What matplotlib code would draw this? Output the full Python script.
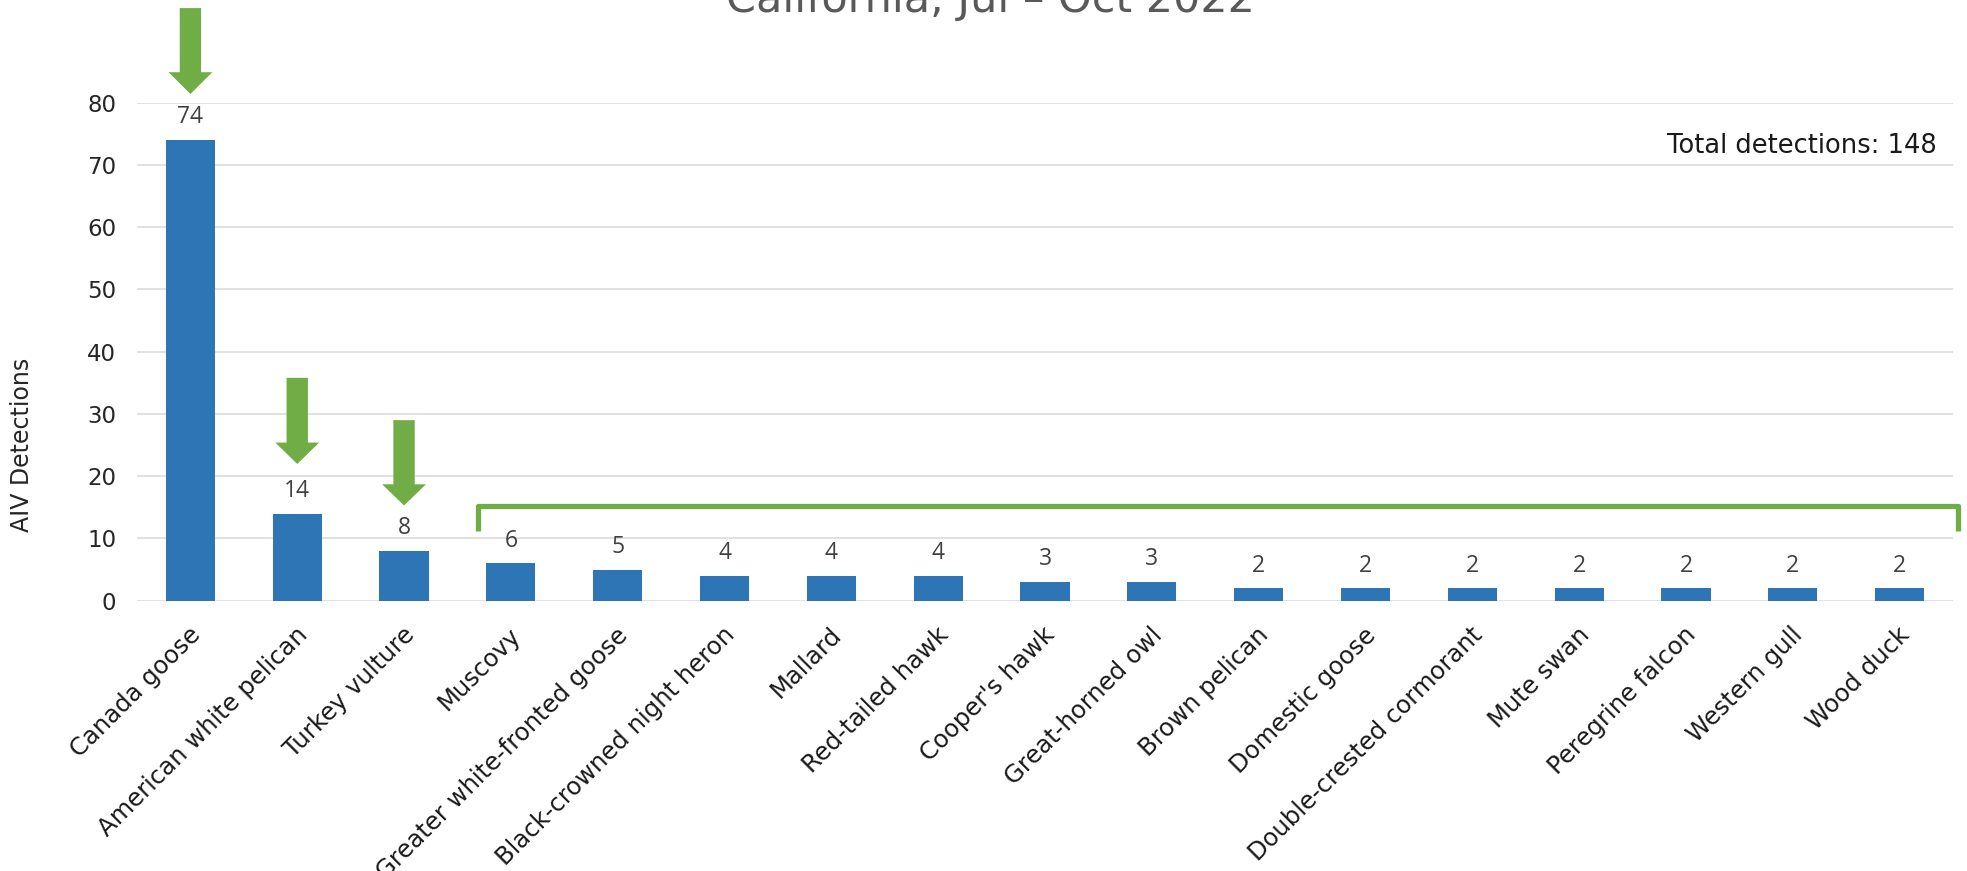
import matplotlib
matplotlib.use("Agg")
import matplotlib.pyplot as plt
from matplotlib.patches import Polygon
import numpy as np

species = ["Canada goose", "American white pelican", "Turkey vulture", "Muscovy",
           "Greater white-fronted goose", "Black-crowned night heron", "Mallard",
           "Red-tailed hawk", "Cooper's hawk", "Great-horned owl", "Brown pelican",
           "Domestic goose", "Double-crested cormorant", "Mute swan",
           "Peregrine falcon", "Western gull", "Wood duck"]
detections = [74, 14, 8, 6, 5, 4, 4, 4, 3, 3, 2, 2, 2, 2, 2, 2, 2]
yticks = [0, 10, 20, 30, 40, 50, 60, 70, 80]
title = "California, Jul – Oct 2022"
ylabel = "AIV Detections"
total_text = "Total detections: 148"

W, H = 1967, 871
fig = plt.figure(figsize=(W / 100, H / 100), dpi=100)
ax = fig.add_axes([137 / W, 1 - 600.7 / H, (1953 - 137) / W, (600.7 - 102.7) / H])

BAR = "#2E75B6"
GREEN = "#70AD47"
font = "DejaVu Sans"

x = np.arange(len(species))
ax.bar(x, detections, width=0.46, color=BAR, zorder=3)
for xi, v in zip(x, detections):
    ax.annotate(str(v), (xi, v), xytext=(0, 12), textcoords="offset points",
                ha="center", va="baseline", fontsize=16.5, color="#404040",
                family="Open Sans", zorder=4)

ax.set_xlim(-0.5, len(species) - 0.5)
ax.set_ylim(0, 80)
ax.set_yticks(yticks)
ax.set_yticklabels([str(t) for t in yticks], fontsize=16.5, family=font, color="#262626")
ax.set_xticks(x)
ax.set_xticklabels([])
for xi, name in zip(x, species):
    ax.annotate(name, (xi, 0), xycoords=ax.get_xaxis_transform(),
                xytext=(-1.5, -16), textcoords="offset points",
                rotation=45, ha="right", va="top", rotation_mode="anchor",
                fontsize=17.5, family=font, color="#1a1a1a", annotation_clip=False)
ax.tick_params(axis="both", length=0)
ax.tick_params(axis="y", pad=15)
ax.grid(axis="y", color="#D9D9D9", linewidth=1.1, zorder=0)
for s in ax.spines.values():
    s.set_visible(False)

fig.text(22 / W, 1 - 445 / H, ylabel, rotation=90, ha="center", va="center",
         fontsize=17, family=font, color="#262626")
fig.text(990 / W, 1 - 12 / H, title, ha="center", va="baseline",
         fontsize=31, family=font, color="#595959")
ax.text(16.35, 71.9, total_text, ha="right", va="baseline", fontsize=18.5,
        family=font, color="#1a1a1a")

# arrows (annotation shapes): (x, top, head start, tip)
arrows = [(0, 95.2, 84.9, 81.4), (1, 35.8, 25.4, 21.96), (2, 29.0, 18.7, 15.3)]
sw, hw = 0.10, 0.205
for ax_x, top, hs, tip in arrows:
    pts = [(ax_x - sw, top), (ax_x + sw, top), (ax_x + sw, hs), (ax_x + hw, hs),
           (ax_x, tip), (ax_x - hw, hs), (ax_x - sw, hs)]
    ax.add_patch(Polygon(pts, closed=True, facecolor=GREEN, edgecolor="none",
                         clip_on=False, zorder=5))

# bracket
bx0, bx1, by_top, by_bot = 2.694, 16.55, 15.2, 11.25
ax.plot([bx0, bx0, bx1, bx1], [by_bot, by_top, by_top, by_bot], color=GREEN,
        linewidth=3.8, solid_joinstyle="round", solid_capstyle="butt",
        clip_on=False, zorder=5)

fig.savefig("out.png", dpi=100)
